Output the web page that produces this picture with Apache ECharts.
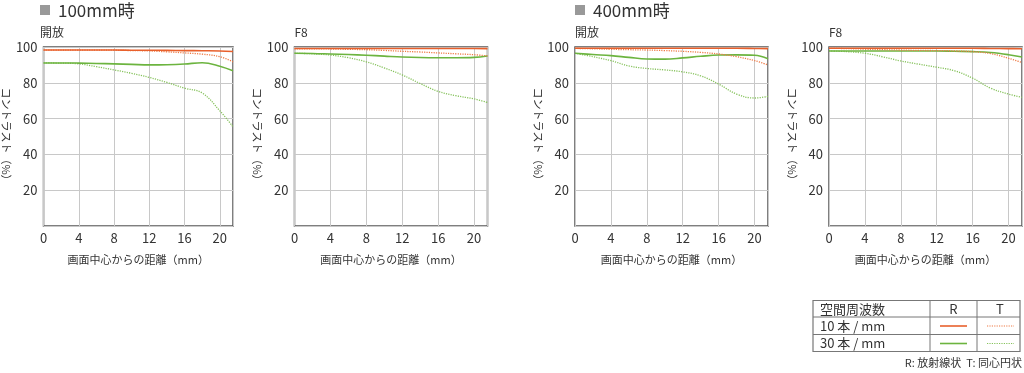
<!DOCTYPE html>
<html><head><meta charset="utf-8">
<script src="https://cdn.jsdelivr.net/npm/echarts@6/dist/echarts.min.js"></script>
<style>html,body{margin:0;padding:0;background:#fff;}#c{width:1024px;height:373px;}</style>
</head><body><div id="c"></div>
<script>
// distance from image centre (mm)
const xs = [0, 2, 4, 6, 8, 10, 12, 14, 16, 18, 20, 21.5];
const xTicks = [0, 4, 8, 12, 16, 20];
const yTicks = [20, 40, 60, 80, 100];
const panelTitles = ['開放', 'F8', '開放', 'F8'];
const groupTitles = ['100mm時', '400mm時'];
const seriesNames = ['10本/mm R', '10本/mm T', '30本/mm R', '30本/mm T'];

// 100mm 開放
const p1_10R = [98.3, 98.3, 98.3, 98.3, 98.3, 98.2, 98.2, 98.1, 98.0, 97.9, 97.8, 97.5];
const p1_10T = [98.3, 98.3, 98.3, 98.3, 98.2, 98.0, 97.8, 97.3, 96.7, 96.0, 94.6, 91.7];
const p1_30R = [91.1, 91.1, 91.0, 90.8, 90.6, 90.3, 90.0, 90.1, 90.5, 91.2, 89.3, 86.7];
const p1_30T = [91.1, 91.0, 90.6, 89.0, 87.2, 85.3, 83.0, 80.2, 77.0, 74.3, 64.4, 55.4];
// 100mm F8
const p2_10R = [99.2, 99.2, 99.2, 99.2, 99.2, 99.2, 99.2, 99.2, 99.2, 99.2, 99.2, 99.1];
const p2_10T = [99.0, 99.0, 98.9, 98.7, 98.5, 98.1, 97.6, 97.2, 96.7, 96.2, 95.7, 95.0];
const p2_30R = [96.5, 96.4, 96.1, 95.8, 95.4, 94.9, 94.4, 94.1, 94.0, 94.0, 94.2, 95.0];
const p2_30T = [96.5, 96.2, 95.5, 94.0, 91.7, 88.3, 84.4, 79.6, 75.2, 72.8, 71.0, 69.0];
// 400mm 開放
const p3_10R = [99.3, 99.3, 99.3, 99.3, 99.3, 99.3, 99.3, 99.3, 99.3, 99.3, 99.2, 99.1];
const p3_10T = [99.2, 99.0, 98.7, 98.5, 98.3, 98.0, 97.6, 97.0, 96.1, 94.6, 92.4, 90.0];
const p3_30R = [96.5, 95.8, 95.2, 94.2, 93.3, 93.2, 93.9, 94.8, 95.5, 95.6, 95.4, 93.5];
const p3_30T = [96.5, 94.6, 92.4, 89.4, 88.0, 87.2, 86.1, 83.9, 79.3, 73.7, 71.5, 72.4];
// 400mm F8
const p4_10R = [99.3, 99.3, 99.3, 99.3, 99.3, 99.3, 99.3, 99.3, 99.3, 99.2, 99.1, 99.0];
const p4_10T = [99.3, 99.1, 98.8, 98.5, 98.3, 98.1, 98.0, 97.8, 97.4, 96.3, 93.7, 91.3];
const p4_30R = [97.8, 97.8, 97.8, 97.8, 97.8, 97.8, 97.8, 97.6, 97.4, 96.9, 95.7, 94.4];
const p4_30T = [97.8, 97.4, 96.5, 94.5, 92.2, 90.4, 88.7, 86.7, 82.6, 77.0, 73.7, 71.9];

const panels = [
  [p1_10R, p1_10T, p1_30R, p1_30T],
  [p2_10R, p2_10T, p2_30R, p2_30T],
  [p3_10R, p3_10T, p3_30R, p3_30T],
  [p4_10R, p4_10T, p4_30R, p4_30T]
];

const ORANGE = '#e8602c', ORANGE_L = '#ee7a45', GREEN = '#6cb43f', GREEN_L = '#86c25c';
const styles = [
  {color: ORANGE, type: 'solid', width: 1.6},
  {color: ORANGE_L, type: [1.2, 1.2], width: 1.3},
  {color: GREEN, type: 'solid', width: 1.6},
  {color: GREEN_L, type: [1.2, 1.2], width: 1.3}
];

const lefts = [40, 294.5, 575, 829];
const FONT = '"Noto Sans CJK JP", "Noto Sans", sans-serif';
const grids = [], xAxes = [], yAxes = [], series = [];
lefts.forEach((l, i) => {
  grids.push({left: l, top: 47, width: 193, height: 179, show: true, borderColor: '#555', borderWidth: 1.5, containLabel: false});
  xAxes.push({type: 'value', gridIndex: i, min: 0, max: 21.5, interval: 4,
    axisLine: {show: false}, axisTick: {show: false},
    splitLine: {show: true, lineStyle: {color: '#c8c8c8', width: 1}},
    axisLabel: {color: '#333', fontSize: 13, fontFamily: FONT, margin: 6,
      customValues: xTicks},
    name: '画面中心からの距離（mm）', nameLocation: 'middle', nameGap: 28,
    nameTextStyle: {color: '#333', fontSize: 11, fontFamily: FONT}
  });
  yAxes.push({type: 'value', gridIndex: i, min: 0, max: 100, interval: 20,
    axisLine: {show: false}, axisTick: {show: false},
    splitLine: {show: true, lineStyle: {color: '#c8c8c8', width: 1}},
    axisLabel: {color: '#333', fontSize: 13, fontFamily: FONT, margin: 6,
      formatter: v => yTicks.includes(v) ? String(v) : ''},
    name: 'コントラスト（%）', nameLocation: 'middle', nameRotate: -90, nameGap: 28,
    nameTextStyle: {color: '#333', fontSize: 11, fontFamily: FONT}
  });
  const d = panels[i];
  [3, 2, 1, 0].forEach(k => {
    series.push({type: 'line', name: seriesNames[k], xAxisIndex: i, yAxisIndex: i,
      data: xs.map((x, j) => [x, d[k][j]]), smooth: 0.4, symbol: 'none',
      lineStyle: styles[k], silent: true, animation: false});
  });
});

const graphic = [];
[0, 2].forEach((pi, gi) => {
  const l = lefts[pi];
  graphic.push({type: 'rect', shape: {x: l, y: 5, width: 10, height: 10}, style: {fill: '#999'}});
  graphic.push({type: 'text', x: l + 18, y: 10.5, style: {text: groupTitles[gi], fill: '#333', font: '17px ' + FONT, textVerticalAlign: 'middle'}});
});
lefts.forEach((l, i) => {
  graphic.push({type: 'text', x: l, y: 32, style: {text: panelTitles[i], fill: '#333', font: '12px ' + FONT, textVerticalAlign: 'middle'}});
});
// legend table
const tL = 813, tR = 1020, tT = 300.5, tB = 351.5, r1 = 317, r2 = 334.5, c1 = 930, c2 = 977;
const lineS = {stroke: '#777', lineWidth: 1};
graphic.push({type: 'rect', shape: {x: tL, y: tT, width: tR - tL, height: tB - tT}, style: {fill: 'none', stroke: '#777', lineWidth: 1.2}});
[[tL, r1, tR, r1], [tL, r2, tR, r2], [c1, tT, c1, tB], [c2, tT, c2, tB]].forEach(s => {
  graphic.push({type: 'line', shape: {x1: s[0], y1: s[1], x2: s[2], y2: s[3]}, style: lineS});
});
const tf = '13px ' + FONT;
graphic.push({type: 'text', x: 820, y: 309, style: {text: '空間周波数', fill: '#333', font: tf, textVerticalAlign: 'middle'}});
graphic.push({type: 'text', x: 953.5, y: 309, style: {text: 'R', fill: '#333', font: tf, textAlign: 'center', textVerticalAlign: 'middle'}});
graphic.push({type: 'text', x: 1000, y: 309, style: {text: 'T', fill: '#333', font: tf, textAlign: 'center', textVerticalAlign: 'middle'}});
graphic.push({type: 'text', x: 820, y: 326, style: {text: '10 本 / mm', fill: '#333', font: tf, textVerticalAlign: 'middle'}});
graphic.push({type: 'text', x: 820, y: 343.5, style: {text: '30 本 / mm', fill: '#333', font: tf, textVerticalAlign: 'middle'}});
[[326, 0, 1], [343.5, 2, 3]].forEach(r => {
  graphic.push({type: 'line', shape: {x1: 940, y1: r[0], x2: 967, y2: r[0]}, style: {stroke: styles[r[1]].color, lineWidth: 1.6}});
  graphic.push({type: 'line', shape: {x1: 987, y1: r[0], x2: 1014, y2: r[0]}, style: {stroke: styles[r[2]].color, lineWidth: 1.2, lineDash: [1.2, 1.2]}});
});
graphic.push({type: 'text', x: 1022, y: 363, style: {text: 'R: 放射線状  T: 同心円状', fill: '#333', font: '11px ' + FONT, textAlign: 'right', textVerticalAlign: 'middle'}});

const chart = echarts.init(document.getElementById('c'));
chart.setOption({animation: false, grid: grids, xAxis: xAxes, yAxis: yAxes, series, graphic});
</script></body></html>
